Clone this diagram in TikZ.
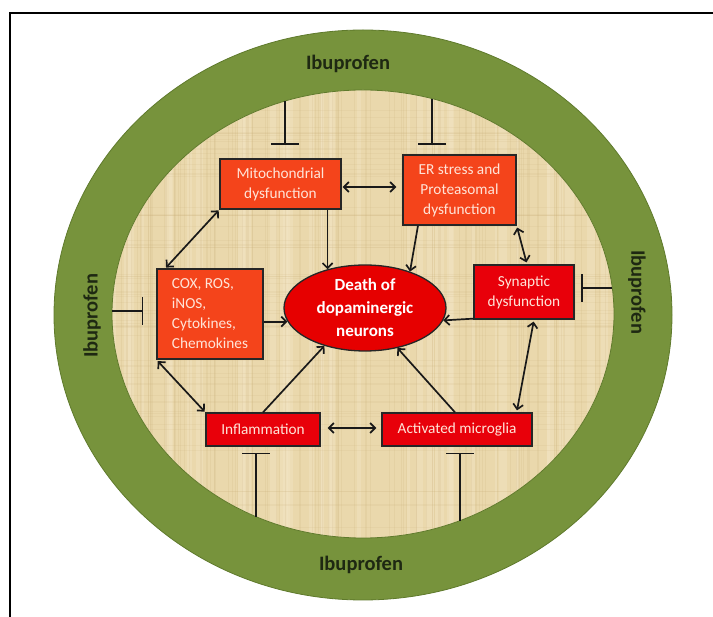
\documentclass[tikz,border=0pt]{standalone}
\usepackage{fontspec}
\setmainfont{Carlito}
\usetikzlibrary{arrows.meta,calc,shapes.geometric}
\definecolor{ringgreen}{HTML}{77933C}
\definecolor{ringedge}{HTML}{5F7A2C}
\definecolor{parch}{HTML}{EAD8AC}
\definecolor{parchdark}{HTML}{C9AE78}
\definecolor{parchlight}{HTML}{F4E8CA}
\definecolor{boxorange}{HTML}{F4441B}
\definecolor{boxred}{HTML}{E8000A}
\definecolor{deathred}{HTML}{E60000}
\definecolor{boxtext}{HTML}{FFE4D8}
\definecolor{labeldark}{HTML}{1E2812}

\begin{document}
\begin{tikzpicture}[x=1pt,y=-1pt,
  >={Straight Barb[length=5pt,width=10pt]},
  box/.style={rectangle, draw=black!85, line width=1.3pt, inner sep=0pt,
    align=center, text=boxtext, font=\fontsize{15.3}{20}\selectfont},
  orangebox/.style={box, fill=boxorange},
  redbox/.style={box, fill=boxred},
  link/.style={draw=black!90, line width=1.7pt, ->},
  dbl/.style={draw=black!90, line width=1.7pt, <->},
  block/.style={draw=black!90, line width=1.5pt, -{Bar[width=28pt]}},
  drug/.style={font=\fontsize{20.5}{22}\selectfont\bfseries, text=labeldark},
]
\useasboundingbox (0,0) rectangle (713,617);

% frame
\draw[line width=1.5pt] (10,617) -- (10,13) -- (713,13);

% outer ring and parchment disc
\path[fill=ringgreen, draw=ringedge, line width=0.8pt] (363,315) ellipse [x radius=309, y radius=285];
\path[fill=parch] (363,314) ellipse [x radius=251, y radius=224];
\begin{scope}
  \clip (363,314) ellipse [x radius=251, y radius=224];
  \pgfmathsetseed{7}
  \foreach \i in {1,...,40}{
    \pgfmathsetmacro{\xx}{112+500*rnd}
    \pgfmathsetmacro{\ww}{2+6*rnd}
    \draw[parchlight, opacity=0.35, line width=\ww pt] (\xx,88) -- (\xx,542);
  }
  \foreach \i in {1,...,110}{
    \pgfmathsetmacro{\xx}{112+500*rnd}
    \pgfmathsetmacro{\ww}{0.3+0.7*rnd}
    \draw[parchdark, opacity=0.16, line width=\ww pt] (\xx,88) -- (\xx,542);
  }
  \foreach \i in {1,...,70}{
    \pgfmathsetmacro{\yy}{90+450*rnd}
    \pgfmathsetmacro{\ww}{0.3+0.6*rnd}
    \draw[parchdark, opacity=0.12, line width=\ww pt] (110,\yy) -- (616,\yy);
  }
\end{scope}
\draw[ringedge, line width=0.8pt] (363,314) ellipse [x radius=251, y radius=224];

% ring labels
\node[drug] (ibtop) at (348,64) {Ibuprofen};
\node[drug] (ibbot) at (361,565) {Ibuprofen};
\node[drug, rotate=90] (ibleft) at (92,316) {Ibuprofen};
\node[drug, rotate=-90] (ibright) at (637,292) {Ibuprofen};

% process boxes
\node[orangebox, minimum width=121pt, minimum height=50pt] (mito) at (280.5,184) {Mitochondrial\\dysfunction};
\node[orangebox, minimum width=113pt, minimum height=70pt] (er) at (459.5,190) {ER stress and\\Proteasomal\\dysfunction};
\node[orangebox, minimum width=106pt, minimum height=90pt, align=left] (cox) at (210,314) {COX, ROS,\\iNOS,\\Cytokines,\\Chemokines};
\node[redbox, minimum width=100pt, minimum height=54pt] (syn) at (524,292) {Synaptic\\dysfunction};
\node[redbox, minimum width=114pt, minimum height=33pt] (infl) at (263,429.5) {Inflammation};
\node[redbox, minimum width=150pt, minimum height=33pt] (micro) at (457,429.5) {Activated microglia};
\node[ellipse, fill=deathred, draw=black!85, line width=1.3pt, minimum width=162pt,
  minimum height=86pt, inner sep=0pt, align=center, text=white,
  font=\fontsize{17}{23}\selectfont\bfseries] (death) at (365,308) {Death of\\dopaminergic\\neurons};

% interactions
\draw[dbl, shorten <=1pt, shorten >=6pt] ([yshift=-3pt]mito.east) -- ([yshift=-3pt]mito.east -| er.west);
\draw[link] (mito.south -| death.134) -- (death.134);
\draw[link] ([xshift=-41.5pt]er.south) -- (death.39);
\draw[dbl, shorten <=2pt, shorten >=2pt] (er.south east) -- ([xshift=3pt]syn.north);
\draw[dbl, shorten <=1pt, shorten >=1pt] (mito.south west) -- ([xshift=9pt]cox.north west);
\draw[link] (death.190 -| cox.east) -- (death.190);
\draw[dbl, shorten <=2pt, shorten >=1pt] (cox.south west) -- (infl.north west);
\draw[link] (infl.north) -- (death.223);
\draw[link] ([xshift=-2pt]micro.north) -- (death.309);
\draw[dbl, shorten <=7pt, shorten >=5pt] ([yshift=1.5pt]infl.east) -- ([yshift=1.5pt]infl.east -| micro.west);
\draw[link] ([yshift=1pt]syn.south west) -- (death.351);
\draw[dbl, shorten <=2pt, shorten >=2pt] ([xshift=10pt]syn.south) -- ([xshift=-16pt]micro.north east);

% inhibition by ibuprofen
\coordinate (r1) at (285,101);   \coordinate (b1) at (285,145);
\coordinate (r2) at (432,99);    \coordinate (b2) at (432,145);
\coordinate (r3) at (112,311);   \coordinate (b3) at (143,311);
\coordinate (r4) at (612,288);   \coordinate (b4) at (581,288);
\coordinate (r5) at (256,516.6); \coordinate (b5) at (256,453);
\coordinate (r6) at (460,520.6); \coordinate (b6) at (460,453);
\foreach \k in {1,...,6}{\draw[block] (r\k) -- (b\k);}
\end{tikzpicture}
\end{document}
